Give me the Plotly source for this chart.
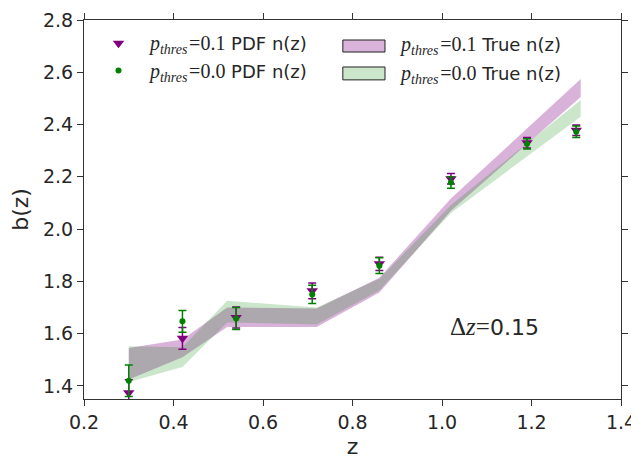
import plotly.graph_objects as go

# Measured points
z_pts = [0.30, 0.42, 0.54, 0.71, 0.86, 1.02, 1.19, 1.30]
b_p01 = [1.374, 1.582, 1.662, 1.764, 1.867, 2.193, 2.330, 2.378]
e_p01 = [0.050, 0.042, 0.040, 0.030, 0.025, 0.020, 0.020, 0.020]
b_p00 = [1.420, 1.647, 1.658, 1.750, 1.860, 2.178, 2.326, 2.372]
e_p00 = [0.060, 0.042, 0.042, 0.035, 0.030, 0.022, 0.020, 0.022]

# True n(z) bands
z_band = [0.30, 0.42, 0.52, 0.72, 0.86, 1.02, 1.31]
p01_lo = [1.425, 1.510, 1.625, 1.625, 1.757, 2.070, 2.505]
p01_hi = [1.545, 1.578, 1.700, 1.696, 1.814, 2.117, 2.574]
p00_lo = [1.415, 1.472, 1.643, 1.635, 1.765, 2.062, 2.430]
p00_hi = [1.552, 1.548, 1.726, 1.700, 1.810, 2.092, 2.494]

x_ticks = [0.2, 0.4, 0.6, 0.8, 1.0, 1.2, 1.4]
y_ticks = [1.4, 1.6, 1.8, 2.0, 2.2, 2.4, 2.6, 2.8]

PURPLE = "#800080"
GREEN = "#008000"
PURPLE_FILL = "rgba(128,0,128,0.3)"
GREEN_FILL = "rgba(0,128,0,0.2)"
PURPLE_PATCH = "rgb(217,179,217)"
GREEN_PATCH = "rgb(204,230,204)"
SERIF = "Liberation Serif"


def pth(val):
    return (f"<span style='font-family:{SERIF};font-size:20px'><i>p</i>"
            f"<sub><i>thres</i></sub>&#8202;={val}</span>")


fig = go.Figure()

# bands (purple first, green on top)
for lo, hi, fc in [(p01_lo, p01_hi, PURPLE_FILL), (p00_lo, p00_hi, GREEN_FILL)]:
    fig.add_trace(go.Scatter(x=z_band, y=lo, mode="lines", line=dict(width=0),
                             showlegend=False, hoverinfo="skip"))
    fig.add_trace(go.Scatter(x=z_band, y=hi, mode="lines", line=dict(width=0),
                             fill="tonexty", fillcolor=fc, showlegend=False,
                             hoverinfo="skip"))

# points
fig.add_trace(go.Scatter(
    x=z_pts, y=b_p01, mode="markers",
    name="&nbsp;&nbsp;" + pth("0.1") + " PDF n(z)",
    marker=dict(symbol="triangle-down", size=10, color=PURPLE),
    error_y=dict(type="data", array=e_p01, color=PURPLE, thickness=1.5, width=4),
    legendgroup="a"))
fig.add_trace(go.Scatter(
    x=z_pts, y=b_p00, mode="markers",
    name="&nbsp;&nbsp;" + pth("0.0") + " PDF n(z)",
    marker=dict(symbol="circle", size=6, color=GREEN),
    error_y=dict(type="data", array=e_p00, color=GREEN, thickness=1.5, width=4),
    legendgroup="b"))

# legend entries for the bands (patch + label)
band_legend = [(PURPLE_PATCH, "0.1", 0.9155, 0.9472, 0.9314),
               (GREEN_PATCH, "0.0", 0.842, 0.876, 0.8575)]
for col, val, y0, y1, yt in band_legend:
    fig.add_shape(type="rect", xref="paper", yref="paper",
                  x0=0.482, x1=0.5605, y0=y0, y1=y1,
                  fillcolor=col, line=dict(color="#222222", width=1))
    fig.add_annotation(xref="paper", yref="paper", x=0.583, y=yt,
                       xanchor="left", yanchor="middle", showarrow=False,
                       text=pth(val) + " True n(z)",
                       font=dict(size=18, color="#262626", family="DejaVu Sans"))

fig.add_annotation(x=1.118, y=1.626, xref="x", yref="y", showarrow=False,
                   text=(f"<span style='font-family:{SERIF};font-size:25px'>"
                         "Δ<i>z</i>=</span>0.15"),
                   font=dict(size=22, color="#262626", family="DejaVu Sans"))

axis_common = dict(showline=True, linecolor="#333333", linewidth=1.2,
                   mirror="ticks", ticks="outside", ticklen=6, tickwidth=1.2,
                   tickcolor="#333333", showgrid=False, zeroline=False,
                   automargin=False,
                   tickfont=dict(size=19, color="#262626", family="DejaVu Sans"))

# page body has an 8px margin, so the figure is sized/offset to compensate
fig.update_layout(
    width=631, height=454,
    margin=dict(l=76, r=18, t=12, b=63),
    paper_bgcolor="white", plot_bgcolor="white",
    font=dict(family="DejaVu Sans", color="#262626"),
    xaxis=dict(range=[0.2, 1.4], tickvals=x_ticks,
               ticktext=[f"{v:.1f}" for v in x_ticks],
               title=dict(text="z", font=dict(size=22), standoff=6),
               **axis_common),
    yaxis=dict(range=[1.35, 2.8], tickvals=y_ticks,
               ticktext=[f"{v:.1f}" for v in y_ticks],
               title=dict(text="b(z)", font=dict(size=22), standoff=8),
               **axis_common),
    legend=dict(x=0.027, y=0.987, xanchor="left", yanchor="top",
                bgcolor="rgba(0,0,0,0)", font=dict(size=18, color="#262626"),
                tracegroupgap=1),
)

fig.write_html("out.html")
